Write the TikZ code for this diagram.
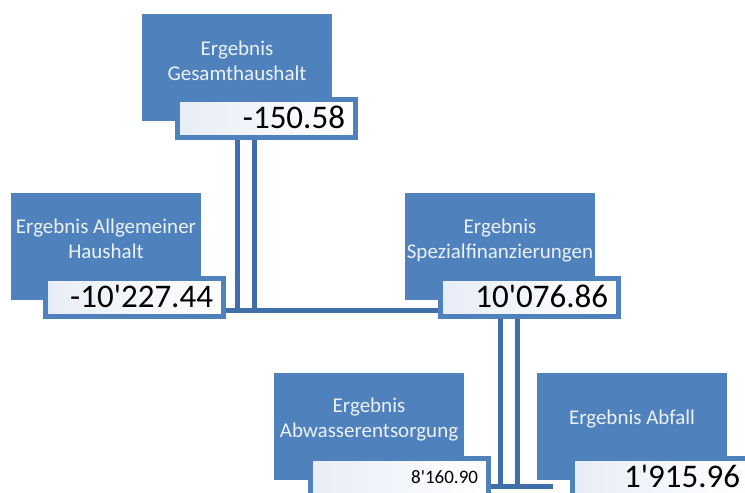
\documentclass[tikz,border=0pt]{standalone}
\usepackage{fontspec}
\setmainfont{Carlito}[Ligatures=TeXOff]
\usetikzlibrary{backgrounds}
\definecolor{boxblue}{RGB}{79,129,189}
\definecolor{linkblue}{RGB}{64,110,168}
\definecolor{labelwhite}{RGB}{236,241,248}
\definecolor{vallight}{RGB}{231,237,247}
\begin{document}
\begin{tikzpicture}[x=1pt,y=-1pt,
  bluebox/.style={fill=boxblue, inner sep=0pt, outer sep=0pt, minimum width=190pt, minimum height=107pt, anchor=north west},
  boxlabel/.style={text=labelwhite, font=\fontsize{21}{25}\selectfont, align=center, anchor=base, inner sep=0pt},
  valbox/.style={draw=boxblue, line width=5pt, left color=vallight, right color=white, anchor=north west, minimum width=178pt, minimum height=38pt, text width=157pt, align=right, inner xsep=10.5pt, inner ysep=0pt, font=\fontsize{33}{36}\selectfont, text height=21pt, text depth=1pt},
  smallval/.style={font=\fontsize{19}{22}\selectfont, text height=12pt, text depth=0pt},
  link/.style={draw=linkblue, line width=5pt, line cap=rect}
]
\useasboundingbox (0,0) rectangle (745,493);

% boxes
\node[bluebox] (gesb) at (142,14) {};
\node[valbox] (gesv) at (175,97) {-150.58};
\node[boxlabel] (gesl) at ([yshift=-66pt]gesb.north) {Ergebnis\\Gesamthaushalt};

\node[bluebox] (allb) at (11,193) {};
\node[valbox] (allv) at (43,276) {-10'227.44};
\node[boxlabel] (alll) at ([yshift=-65pt]allb.north) {Ergebnis Allgemeiner\\Haushalt};

\node[bluebox] (spezb) at (405,193) {};
\node[valbox] (spezv) at (438,276) {10'076.86};
\node[boxlabel] (spezl) at ([yshift=-65pt]spezb.north) {Ergebnis\\Spezialfinanzierungen};

\node[bluebox] (abwb) at (274,373) {};
\node[valbox,smallval] (abwv) at (308,456) {8'160.90};
\node[boxlabel] (abwl) at ([yshift=-64pt]abwb.north) {Ergebnis\\Abwasserentsorgung};

\node[bluebox] (abfb) at (537,373) {};
\node[valbox] (abfv) at (570,456) {1'915.96};
\node[boxlabel] (abfl) at ([yshift=-51pt]abfb.north) {Ergebnis Abfall};

% connectors
\begin{scope}[on background layer]
\coordinate (h1) at (0,310.5);
\coordinate (h2) at (0,486);
\draw[link] ([xshift=62.5pt,yshift=4pt]gesv.south west) -- ([xshift=62.5pt]gesv.south west |- h1);
\draw[link] ([xshift=79pt,yshift=4pt]gesv.south west) -- ([xshift=79pt]gesv.south west |- h1);
\draw[link] (allv.east |- h1) -- (spezv.west |- h1);
\draw[link] ([xshift=62.5pt,yshift=4pt]spezv.south west) -- ([xshift=62.5pt]spezv.south west |- h2);
\draw[link] ([xshift=79pt,yshift=4pt]spezv.south west) -- ([xshift=79pt]spezv.south west |- h2);
\draw[link] (abwv.east |- h2) -- ([xshift=-20pt]abfv.west |- h2);
\end{scope}
\end{tikzpicture}
\end{document}
